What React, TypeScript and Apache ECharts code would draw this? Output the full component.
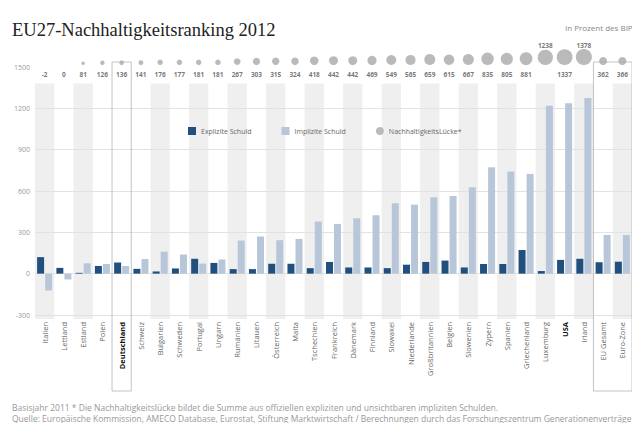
import React, { useEffect, useRef } from "react";
import * as echarts from "echarts";

const categories = [
  "Italien", "Lettland", "Estland", "Polen", "Deutschland", "Schweiz", "Bulgarien", "Schweden",
  "Portugal", "Ungarn", "Rumänien", "Litauen", "Österreich", "Malta", "Tschechien", "Frankreich",
  "Dänemark", "Finnland", "Slowakei", "Niederlande", "Großbritannien", "Belgien", "Slowenien",
  "Zypern", "Spanien", "Griechenland", "Luxemburg", "USA", "Irland", "EU Gesamt", "Euro-Zone",
];
const explicitDebt = [120, 42, 6, 56, 81, 35, 16, 38, 108, 78, 33, 33, 72, 72, 40, 85, 45, 45, 40, 65, 85, 95, 45, 70, 70, 172, 19, 100, 108, 83, 87];
const implicitDebt = [-122, -42, 75, 70, 55, 106, 160, 139, 73, 103, 240, 270, 243, 252, 378, 361, 402, 424, 511, 501, 554, 564, 627, 772, 741, 724, 1218, 1237, 1275, 281, 281];
const gapValues = [-2, 0, 81, 126, 136, 141, 176, 177, 181, 181, 267, 303, 315, 324, 418, 442, 442, 469, 549, 565, 659, 615, 667, 835, 805, 881, 1238, 1337, 1378, 362, 366];
const labelsAbove = ["Luxemburg", "Irland"];
const highlighted = ["Deutschland", "USA"];
const unshaded = ["Deutschland"];
const boxedGroups = [["Deutschland", "Deutschland"], ["EU Gesamt", "Euro-Zone"]];

const FONT = "'Open Sans', 'Noto Sans', sans-serif";

export default function App() {
  const ref = useRef<HTMLDivElement>(null);
  useEffect(() => {
    if (!ref.current) return;
    const chart = echarts.init(ref.current, null, { renderer: "svg" });
    const bubbleRow = 1500;
    const bandData = categories
      .map((c, i) => [i, 0, c])
      .filter((d) => (d[0] as number) % 2 === 0 && !unshaded.includes(d[2] as string));
    const boxData = boxedGroups.map((g) => [categories.indexOf(g[0]), categories.indexOf(g[1])]);

    chart.setOption({
      animation: false,
      textStyle: { fontFamily: FONT },
      title: {
        text: "EU27-Nachhaltigkeitsranking 2012",
        left: 7,
        top: 15,
        textStyle: { fontFamily: "'Liberation Serif', 'DejaVu Serif', serif", fontSize: 18.5, fontWeight: "normal", color: "#222" },
      },
      legend: {
        left: 183,
        top: 122,
        itemWidth: 8,
        itemHeight: 8,
        itemGap: 30,
        textStyle: { fontSize: 7, color: "#666", fontFamily: FONT },
        data: [
          { name: "Explizite Schuld", icon: "rect" },
          { name: "Implizite Schuld", icon: "rect" },
          { name: "NachhaltigkeitsLücke*", icon: "circle" },
        ],
      },
      graphic: [
        { type: "text", left: 565, top: 23, style: { text: "In Prozent des BIP", fontSize: 8, fill: "#888", fontFamily: FONT } },
        { type: "text", left: 12, top: 403, style: { text: "Basisjahr 2011 * Die Nachhaltigkeitslücke bildet die Summe aus offiziellen expliziten und unsichtbaren impliziten Schulden.", fontSize: 8.5, fill: "#999", fontFamily: FONT } },
        { type: "text", left: 12, top: 414, style: { text: "Quelle: Europäische Kommission, AMECO Database, Eurostat, Stiftung Marktwirtschaft / Berechnungen durch das Forschungszentrum Generationenverträge", fontSize: 8.5, fill: "#999", fontFamily: FONT } },
      ],
      grid: { left: 35, right: -4, top: 67, bottom: 108 },
      xAxis: {
        type: "category",
        data: categories,
        axisLine: { show: false },
        axisTick: { show: false },
        splitLine: { show: false },
        axisLabel: {
          rotate: 90,
          interval: 0,
          margin: 7,
          fontSize: 7.5,
          color: "#666",
          fontFamily: FONT,
          formatter: (v: string) => (highlighted.includes(v) ? `{b|${v}}` : v),
          rich: { b: { fontWeight: "bold", color: "#111", fontSize: 7.5, fontFamily: FONT } },
        },
      },
      yAxis: {
        type: "value",
        min: -300,
        max: 1500,
        interval: 300,
        axisLine: { show: false },
        axisTick: { show: false },
        axisLabel: { fontSize: 7, color: "#999", margin: 5, fontFamily: FONT, formatter: (v: number) => String(v) },
        splitLine: {
          show: true,
          lineStyle: { color: ["#e2e2e2", "#e2e2e2", "#e2e2e2", "#e2e2e2", "#e2e2e2", "#e2e2e2", "rgba(0,0,0,0)"], width: 1 },
        },
      },
      series: [
        {
          type: "custom",
          z: -1,
          silent: true,
          data: bandData,
          encode: { x: 0, y: 1 },
          renderItem: (params: any, api: any) => {
            const i = api.value(0);
            const top = api.coord([i, 1380]);
            const bot = api.coord([i, -300]);
            const w = api.size([1, 0])[0];
            return {
              type: "rect",
              shape: { x: top[0] - w / 2, y: top[1], width: w, height: bot[1] - top[1] + 4 },
              style: { fill: "#efefef" },
            };
          },
        },
        {
          type: "custom",
          silent: true,
          clip: false,
          z: 1,
          data: boxData,
          encode: { x: 0, y: 1 },
          renderItem: (params: any, api: any) => {
            const a = api.value(0);
            const b = api.value(1);
            const w = api.size([1, 0])[0];
            const x0 = api.coord([a, 0])[0] - w / 2;
            const x1 = api.coord([b, 0])[0] + w / 2;
            const y0 = api.coord([a, 1500])[1] - 5;
            const y1 = api.coord([a, -300])[1] + 76;
            return {
              type: "rect",
              shape: { x: x0, y: y0, width: x1 - x0, height: y1 - y0 },
              style: { fill: "none", stroke: "#b5b5b5", lineWidth: 0.8 },
            };
          },
        },
        {
          name: "Explizite Schuld",
          type: "bar",
          data: explicitDebt,
          barWidth: 7,
          barGap: "15%",
          itemStyle: { color: "#22507e" },
        },
        {
          name: "Implizite Schuld",
          type: "bar",
          data: implicitDebt,
          barWidth: 7,
          itemStyle: { color: "#b7c6d8" },
        },
        {
          name: "NachhaltigkeitsLücke*",
          type: "scatter",
          itemStyle: { color: "#a9a9a9" },
          data: gapValues.map((v, i) => {
            const d = v > 0 ? Math.max(2, 0.45 * Math.sqrt(v) - 0.6) : 0;
            return { value: [i, bubbleRow, v], symbolSize: d, symbolOffset: [0, -d / 2 - 2] };
          }),
        },
        {
          type: "scatter",
          silent: true,
          symbolSize: 1,
          itemStyle: { color: "rgba(0,0,0,0)" },
          data: gapValues.map((v, i) => ({
            value: [i, bubbleRow, v],
            label: {
              show: true,
              position: "inside",
              offset: labelsAbove.includes(categories[i]) ? [0, -22] : [0, 7],
              formatter: String(v),
              fontSize: 6.5,
              fontWeight: "bold",
              color: "#555",
              fontFamily: FONT,
            },
          })),
        },
      ],
    });
    return () => chart.dispose();
  }, []);
  return <div ref={ref} style={{ position: "fixed", left: 0, top: 0, width: 632, height: 423, background: "#fff" }} />;
}
